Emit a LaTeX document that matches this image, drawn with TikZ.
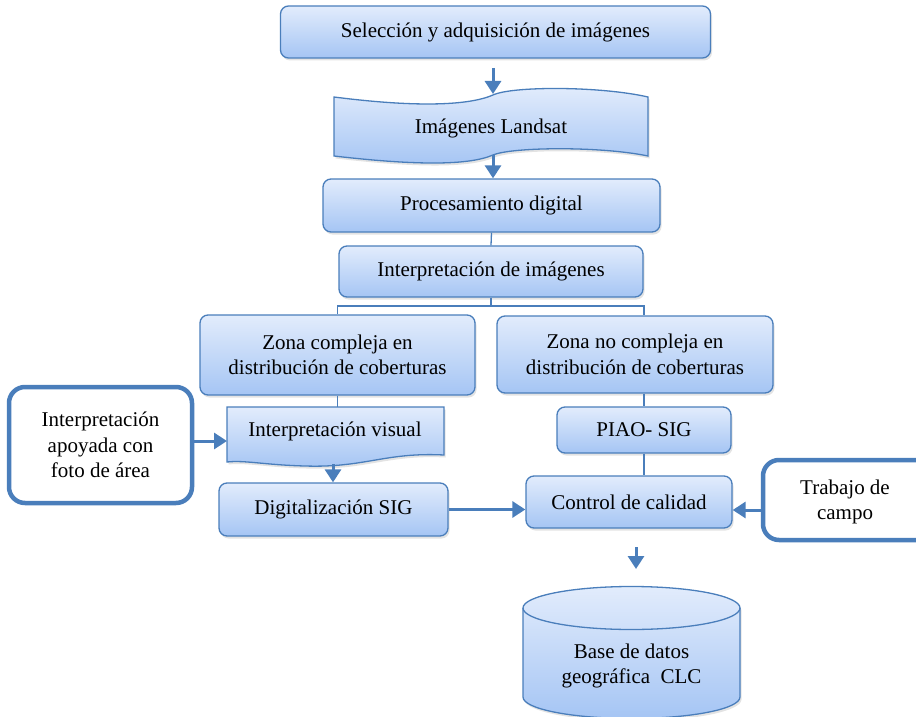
\documentclass[tikz,border=0pt]{standalone}
\usepackage{fontspec}
\setmainfont{Liberation Serif}
\usetikzlibrary{arrows.meta,shadows}
\definecolor{bord}{RGB}{74,126,187}
\definecolor{ftop}{RGB}{226,236,252}
\definecolor{fbot}{RGB}{165,197,244}
\newcommand\dfont{\fontsize{21}{25.5}\selectfont}
\tikzset{
  shd/.style={drop shadow={opacity=0.18,shadow xshift=1.5pt,shadow yshift=-2.5pt,fill=black!60}},
  box/.style={draw=bord,line width=1.3pt,rounded corners=8pt,top color=ftop,bottom color=fbot,
    align=center,inner sep=0pt,font=\dfont,shd},
  docshape/.style={draw=bord,line width=1.3pt,top color=ftop,bottom color=fbot,shd},
  wbox/.style={draw=bord,line width=4.5pt,rounded corners=16pt,fill=white,inner sep=0pt},
  txt/.style={align=center,inner sep=0pt,font=\dfont},
  ln/.style={draw=bord,line width=1.3pt},
  arr/.style={draw=bord,line width=3pt,-{Triangle[width=16pt,length=13pt]}}
}
\begin{document}
\begin{tikzpicture}[x=1pt,y=-1pt]
\useasboundingbox (0,0) rectangle (916,717);
\clip (0,0) rectangle (916,717);

% top box
\node[box,minimum width=430,minimum height=52] (sel) at (495.5,32) {Selección y adquisición de imágenes};

% Landsat (punched tape like shape)
\path[docshape] (334,97) .. controls (420,108) and (470,105) .. (493,95)
  .. controls (512,86) and (600,86) .. (648,97) -- (648,156)
  .. controls (600,146) and (512,147) .. (493,155)
  .. controls (470,165) and (420,166) .. (334,156) -- cycle;
\node[txt] (land) at (491,128) {Imágenes Landsat};
\coordinate (a1s) at (493,68);
\coordinate (a1e) at (493,94);
\coordinate (landB) at (493,155);

\node[box,minimum width=337,minimum height=53] (proc) at (491.5,205.5) {Procesamiento digital};
\node[box,minimum width=304,minimum height=51] (interp) at (491,271.5) {Interpretación de imágenes};
\coordinate (br) at (491,306);

\node[box,minimum width=275,minimum height=80] (zc) at (337.5,355) {Zona compleja en\\distribución de coberturas};
\node[box,minimum width=276,minimum height=77] (znc) at (635,354.5) {Zona no compleja en\\distribución de coberturas};

% Interpretacion visual (document shape)
\path[docshape] (227,407) -- (444,407) -- (444,455)
  .. controls (385,452) and (365,468) .. (305,466)
  .. controls (265,465) and (245,460) .. (227,462) -- cycle;
\node[txt] (ivis) at (335,431) {Interpretación visual};
\coordinate (ivisT) at (337.5,407);
\coordinate (ivisB) at (333,464);
\coordinate (ivisL) at (227,441);

\node[wbox,minimum width=183,minimum height=116] (apo) at (100.5,445) {};
\node[txt] (apot) at (apo) {Interpretación\\apoyada con\\foto de área};
\node[box,minimum width=229,minimum height=53] (dig) at (333.5,509.5) {Digitalización SIG};

\node[box,minimum width=174,minimum height=46] (piao) at (644,430) {PIAO- SIG};
\node[box,minimum width=206,minimum height=52] (ctrl) at (629,502) {Control de calidad};
\node[wbox,minimum width=190,minimum height=80] (trab) at (858,500) {};
\node[txt] (trabt) at (845,502) {Trabajo de\\campo};

\coordinate (a9s) at (636,547);
\coordinate (a9e) at (636,569);

% cylinder
\path[docshape] (523,608) arc[start angle=180,end angle=360,x radius=108.5,y radius=21.5]
  -- (740,697) arc[start angle=0,end angle=180,x radius=108.5,y radius=21.5] -- cycle;
\draw[ln] (523,608) arc[start angle=180,end angle=0,x radius=108.5,y radius=21.5];
\node[txt] (db) at (631.5,666) {Base de datos\\geográfica\ \ CLC};

% connectors
\draw[arr] (a1s) -- (a1e);
\draw[arr] (landB) -- (landB |- proc.north);
\draw[ln] (proc.south) -- (interp.north);
\draw[ln] (interp.south) -- (br);
\draw[ln] (zc.north) |- (br) -| (piao.north |- znc.north);
\draw[ln] (zc.south) -- (ivisT);
\draw[arr] (ivisB) -- (ivisB |- dig.north);
\draw[arr] (apo.east |- ivisL) -- (ivisL);
\draw[ln] (piao.north |- znc.south) -- (piao.north);
\draw[ln] (piao.south) -- (piao.south |- ctrl.north);
\draw[arr] (dig.east) -- (dig.east -| ctrl.west);
\draw[arr] (trab.west |- 0,510) -- (ctrl.east |- 0,510);
\draw[arr] (a9s) -- (a9e);
\end{tikzpicture}
\end{document}
